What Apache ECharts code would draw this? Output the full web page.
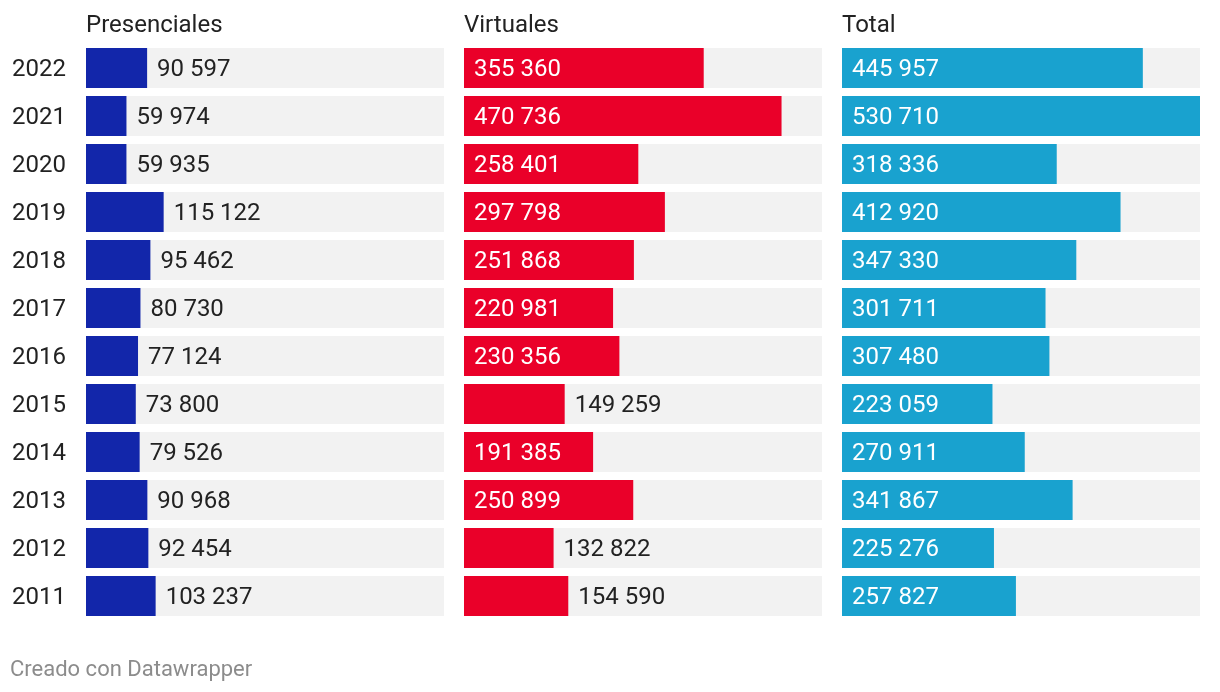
<!DOCTYPE html>
<html>
<head>
<meta charset="utf-8">
<script src="https://cdn.jsdelivr.net/npm/echarts@6/dist/echarts.min.js"></script>
<style>
html,body{margin:0;padding:0;background:#fff;}
#chart{width:1220px;height:692px;}
</style>
</head>
<body>
<div id="chart"></div>
<script>
var years = ['2022','2021','2020','2019','2018','2017','2016','2015','2014','2013','2012','2011'];
var presenciales = [90597, 59974, 59935, 115122, 95462, 80730, 77124, 73800, 79526, 90968, 92454, 103237];
var virtuales = [355360, 470736, 258401, 297798, 251868, 220981, 230356, 149259, 191385, 250899, 132822, 154590];
var total = [445957, 530710, 318336, 412920, 347330, 301711, 307480, 223059, 270911, 341867, 225276, 257827];
var titles = ['Presenciales', 'Virtuales', 'Total'];
var colors = ['#1226aa', '#ea0029', '#19a2cf'];

var maxVal = Math.max.apply(null, total.concat(virtuales, presenciales));
var lefts = [86, 464, 842];
var panelW = 358;
var FONT = 'Roboto, sans-serif';

function fmt(v) {
  return String(v).replace(/\B(?=(\d{3})+(?!\d))/g, ' ');
}

function items(arr) {
  return arr.map(function (v) {
    var inside = v >= 170000;
    return {
      value: v,
      label: inside
        ? { position: 'insideLeft', distance: 10, color: '#ffffff' }
        : { position: 'right', distance: 10, color: '#222222' }
    };
  });
}

var grids = [], xAxes = [], yAxes = [], series = [], titleList = [];
[presenciales, virtuales, total].forEach(function (arr, i) {
  grids.push({ left: lefts[i], width: panelW, top: 44, height: 576 });
  xAxes.push({ type: 'value', gridIndex: i, min: 0, max: maxVal, show: false });
  yAxes.push({
    type: 'category', gridIndex: i, data: years, inverse: true,
    axisLine: { show: false }, axisTick: { show: false }, splitLine: { show: false },
    axisLabel: i === 0 ? {
      show: true, align: 'left', margin: 74,
      formatter: function (v) { return '{y|' + v + '}'; },
      rich: { y: { fontSize: 24, color: '#222', fontFamily: FONT, padding: [4, 0, 0, 0] } }
    } : { show: false }
  });
  series.push({
    type: 'bar', xAxisIndex: i, yAxisIndex: i, barWidth: 40,
    data: items(arr),
    itemStyle: { color: colors[i] },
    showBackground: true,
    backgroundStyle: { color: '#f2f2f2' },
    label: {
      show: true, fontSize: 24, fontFamily: FONT, offset: [0, 2],
      formatter: function (p) { return fmt(p.value); }
    },
    emphasis: { disabled: true },
    animation: false
  });
  titleList.push({
    text: titles[i], left: lefts[i], top: 14, padding: 0,
    textStyle: { fontSize: 24, fontWeight: 'normal', color: '#222', fontFamily: FONT }
  });
});

var chart = echarts.init(document.getElementById('chart'));
chart.setOption({
  backgroundColor: '#ffffff',
  animation: false,
  title: titleList,
  grid: grids,
  xAxis: xAxes,
  yAxis: yAxes,
  series: series,
  graphic: [{
    type: 'text', left: 10, top: 659,
    style: { text: 'Creado con Datawrapper', fontSize: 22, fill: '#8c8c8c', fontFamily: FONT }
  }]
});
</script>
</body>
</html>
